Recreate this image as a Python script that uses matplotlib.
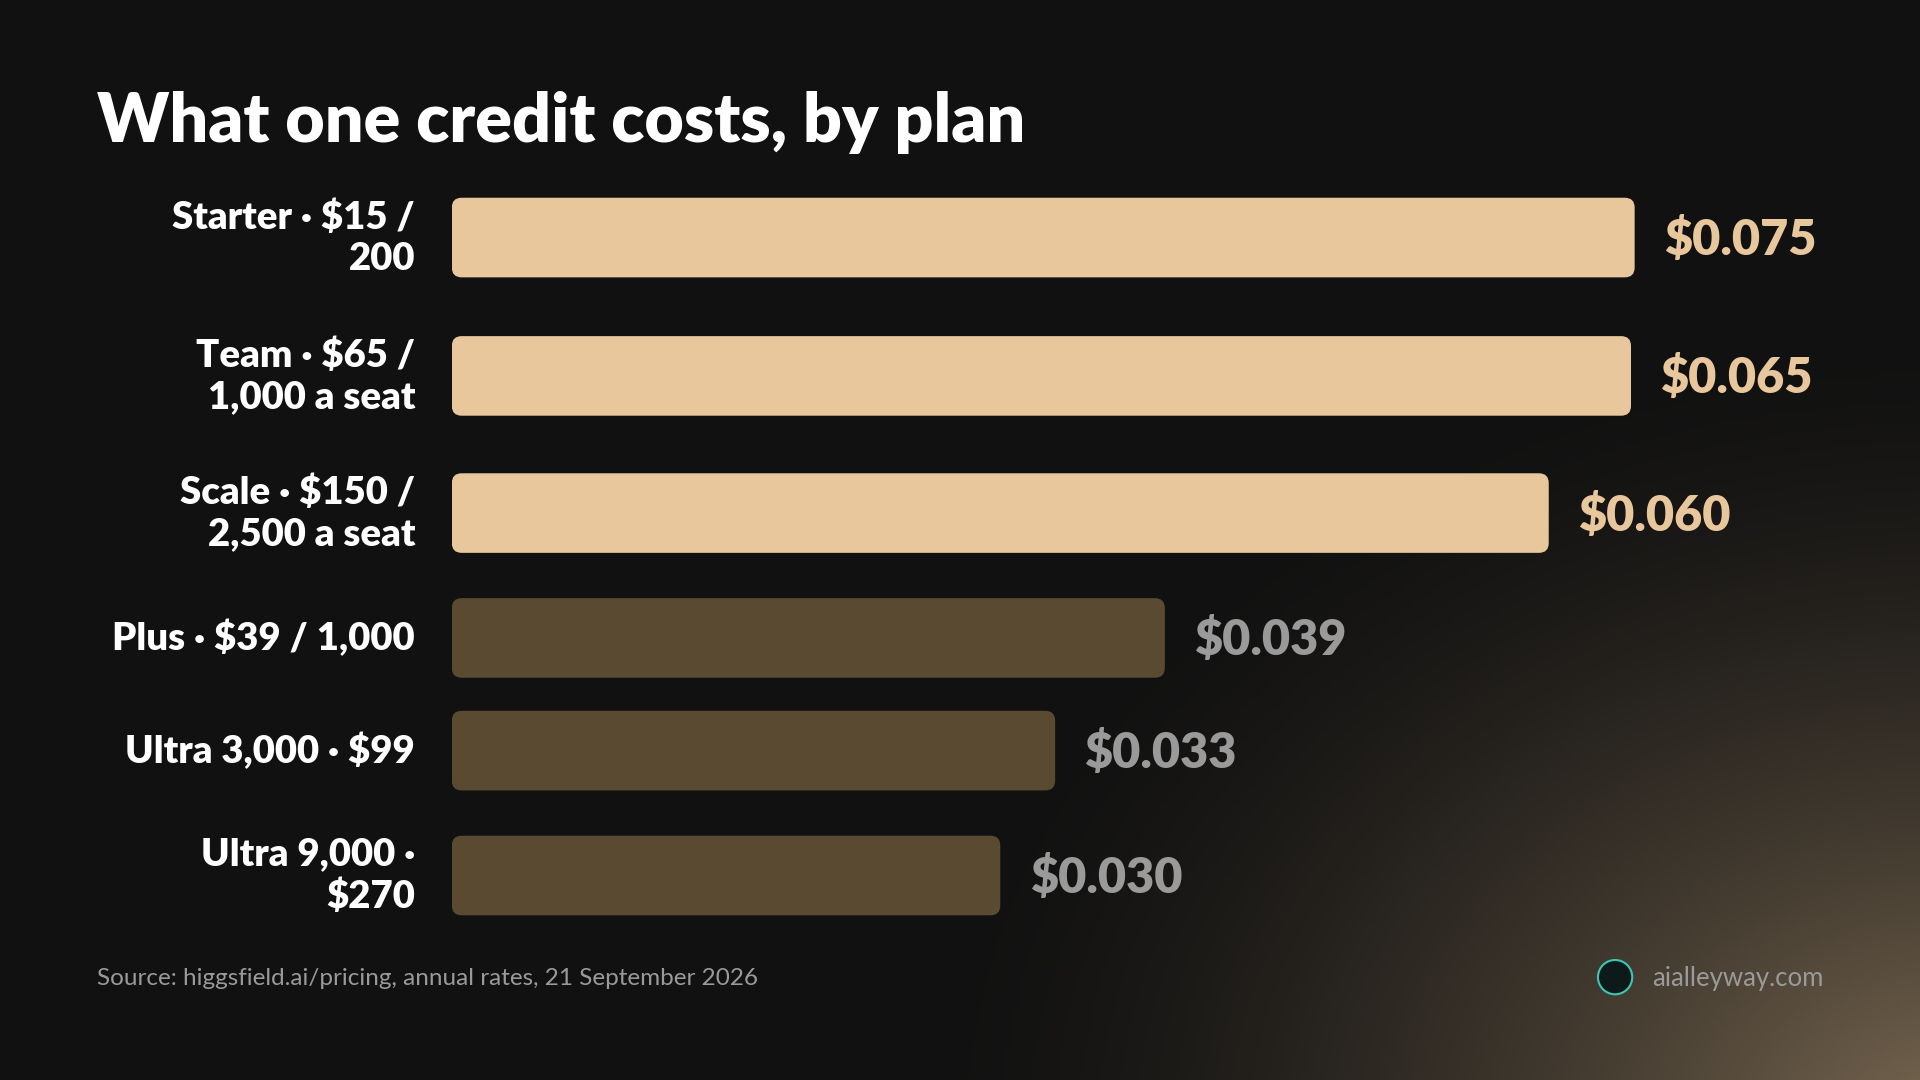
import numpy as np
import matplotlib
matplotlib.use("Agg")
import matplotlib.pyplot as plt
from matplotlib.patches import FancyBboxPatch, Ellipse

# data
plans = ["Starter · $15 /\n200", "Team · $65 /\n1,000 a seat", "Scale · $150 /\n2,500 a seat",
         "Plus · $39 / 1,000", "Ultra 3,000 · $99", "Ultra 9,000 ·\n$270"]
cost = [0.075, 0.065, 0.060, 0.039, 0.033, 0.030]
value_labels = ["$0.075", "$0.065", "$0.060", "$0.039", "$0.033", "$0.030"]
highlight = [True, True, True, False, False, False]
# the picture caps the longest bars at the plot edge
cap = [0.0647, 0.0645, 0.080, 0.080, 0.080, 0.080]
row_y = [194, 307, 419, 521, 613, 715]   # row centres, reference pixels

W, H = 1568, 882
BG = "#111111"
LIGHT = "#e8c79c"
DARK = "#5a4a32"
GRAY = "#9a9a9a"
FONT = ["Lato", "DejaVu Sans"]

fig = plt.figure(figsize=(19.2, 10.8), dpi=100, facecolor=BG)

# background with warm glow in the lower right
bg = fig.add_axes([0, 0, 1, 1], zorder=0)
bg.set_axis_off()
yy, xx = np.mgrid[0:1:300j, 0:1:500j]
d = np.sqrt(((xx - 1.02) / 0.55) ** 2 + ((yy - 1.05) / 0.75) ** 2)
glow = np.clip(1 - d, 0, 1) ** 1.6
base = np.array([0x11, 0x11, 0x11]) / 255
warm = np.array([0x7a, 0x69, 0x52]) / 255
img = base[None, None, :] * (1 - glow[..., None]) + warm[None, None, :] * glow[..., None]
bg.imshow(img, extent=[0, 1, 1, 0], aspect="auto")
bg.set_xlim(0, 1)
bg.set_ylim(1, 0)

px_per_unit = 14930
left, top, bottom = 369, 150, 760
ax = fig.add_axes([left / W, (H - bottom) / H, 0.08 * px_per_unit / W, (bottom - top) / H], zorder=1)
ax.set_xlim(0, 0.08)
ax.set_ylim(bottom, top)
ax.set_axis_off()

shown = np.minimum(cost, cap)
bars = ax.barh(row_y, shown, height=65, left=0, alpha=0)
for b, hl, lab, v in zip(bars, highlight, value_labels, shown):
    col = LIGHT if hl else DARK
    ax.add_patch(FancyBboxPatch((b.get_x(), b.get_y()), b.get_width(), b.get_height(),
                                boxstyle="round,pad=0,rounding_size=%f" % (8 / px_per_unit),
                                mutation_aspect=px_per_unit, fc=col, ec="none"))
    ax.text(v + 24 / px_per_unit, b.get_y() + b.get_height() / 2 + 2, lab,
            color=LIGHT if hl else GRAY, fontsize=35, fontweight="heavy",
            va="center", ha="left", family=FONT)

for y, p in zip(row_y, plans):
    fig.text(339 / W, 1 - y / H, p, ha="right", va="center", color="white",
             fontsize=27.5, fontweight="heavy", linespacing=1.25, family=FONT)

fig.text(79 / W, 1 - 100 / H, "What one credit costs, by plan", color="white",
         fontsize=49, fontweight="heavy", va="center", ha="left", family=FONT)
fig.text(79 / W, 1 - 799 / H, "Source: higgsfield.ai/pricing, annual rates, 21 September 2026",
         color=GRAY, fontsize=17.5, va="center", ha="left", family=FONT)
fig.text(1489 / W, 1 - 799 / H, "aialleyway.com", color=GRAY, fontsize=18.5,
         va="center", ha="right", family=FONT)
bg.add_patch(Ellipse((1319 / W, 798 / H), 28 / W, 28 / H,
                     fc="#0d1a1a", ec="#3cc7b5", lw=1.5))

fig.savefig("out.png", dpi=100, facecolor=BG)
